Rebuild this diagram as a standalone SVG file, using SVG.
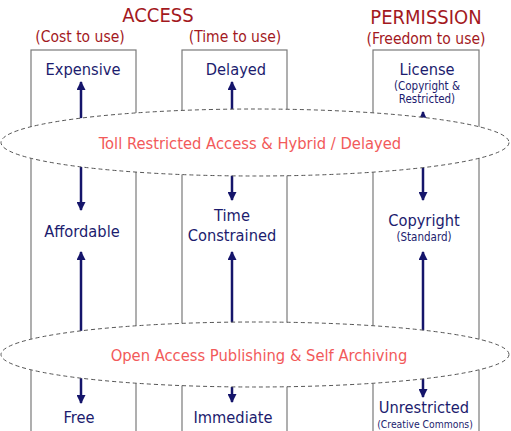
<svg xmlns="http://www.w3.org/2000/svg" width="511" height="431" viewBox="0 0 511 431">
<defs>
<style>
text{font-family:"DejaVu Sans Condensed","DejaVu Sans",sans-serif;text-anchor:middle}
.title{fill:#a3191e;font-size:20px}
.sub{fill:#a3191e;font-size:15.5px}
.node{fill:#1c1c6e;font-size:16.3px}
.small{fill:#1c1c6e;font-size:11.5px}
.tiny{fill:#1c1c6e;font-size:10.3px}
.band{fill:#f25a5a;font-size:16.4px}
.box{fill:#fff;stroke:#7a7a7a;stroke-width:1.2}
.oval{fill:#fff;stroke:#555;stroke-width:1;stroke-dasharray:4 3}
.arr{stroke:#15156b;stroke-width:2.5;marker-start:url(#ah);marker-end:url(#ah)}
</style>
<marker id="ah" viewBox="0 0 10 10" refX="9" refY="5" markerWidth="10" markerHeight="9" markerUnits="userSpaceOnUse" orient="auto-start-reverse">
<path d="M0,0 L10,5 L0,10 Z" fill="#15156b"/>
</marker>
</defs>
<rect width="511" height="431" fill="#fff"/>
<g id="headers">
<text class="title" x="158" y="22">ACCESS</text>
<text class="title" x="426" y="24">PERMISSION</text>
<text class="sub" x="80" y="42">(Cost to use)</text>
<text class="sub" x="235" y="42">(Time to use)</text>
<text class="sub" x="426" y="44">(Freedom to use)</text>
</g>
<g id="columns">
<rect class="box" x="31" y="50" width="105" height="400"/>
<rect class="box" x="182" y="50" width="105" height="400"/>
<rect class="box" x="373" y="50" width="106" height="400"/>
</g>
<g id="connectors">
<line class="arr" x1="81" y1="82" x2="81" y2="210"/>
<line class="arr" x1="232" y1="82" x2="232" y2="200"/>
<line class="arr" x1="423" y1="112" x2="423" y2="200"/>
<line class="arr" x1="81" y1="252" x2="81" y2="403"/>
<line class="arr" x1="232" y1="252" x2="232" y2="402"/>
<line class="arr" x1="423" y1="252" x2="423" y2="397"/>
</g>
<g id="toll">
<ellipse class="oval" cx="255" cy="142.5" rx="254" ry="33.5"/>
<text class="band" x="250" y="149">Toll Restricted Access &amp; Hybrid / Delayed</text>
</g>
<g id="open">
<ellipse class="oval" cx="255" cy="354.5" rx="254" ry="32.5"/>
<text class="band" x="259" y="361">Open Access Publishing &amp; Self Archiving</text>
</g>
<g id="expensive"><text class="node" x="83" y="75">Expensive</text></g>
<g id="delayed"><text class="node" x="236" y="75">Delayed</text></g>
<g id="license"><text class="node" x="427" y="75">License</text>
<text class="small" x="427" y="90">(Copyright &amp;</text>
<text class="small" x="427" y="103">Restricted)</text></g>
<g id="affordable"><text class="node" x="82" y="237">Affordable</text></g>
<g id="timeconstrained"><text class="node" x="232" y="221">Time</text>
<text class="node" x="232" y="241">Constrained</text></g>
<g id="copyright"><text class="node" x="424" y="226">Copyright</text>
<text class="small" x="424" y="241">(Standard)</text></g>
<g id="free"><text class="node" x="79" y="423">Free</text></g>
<g id="immediate"><text class="node" x="233" y="423">Immediate</text></g>
<g id="unrestricted"><text class="node" x="424" y="413">Unrestricted</text>
<text class="tiny" x="425" y="428">(Creative Commons)</text></g>
</svg>
